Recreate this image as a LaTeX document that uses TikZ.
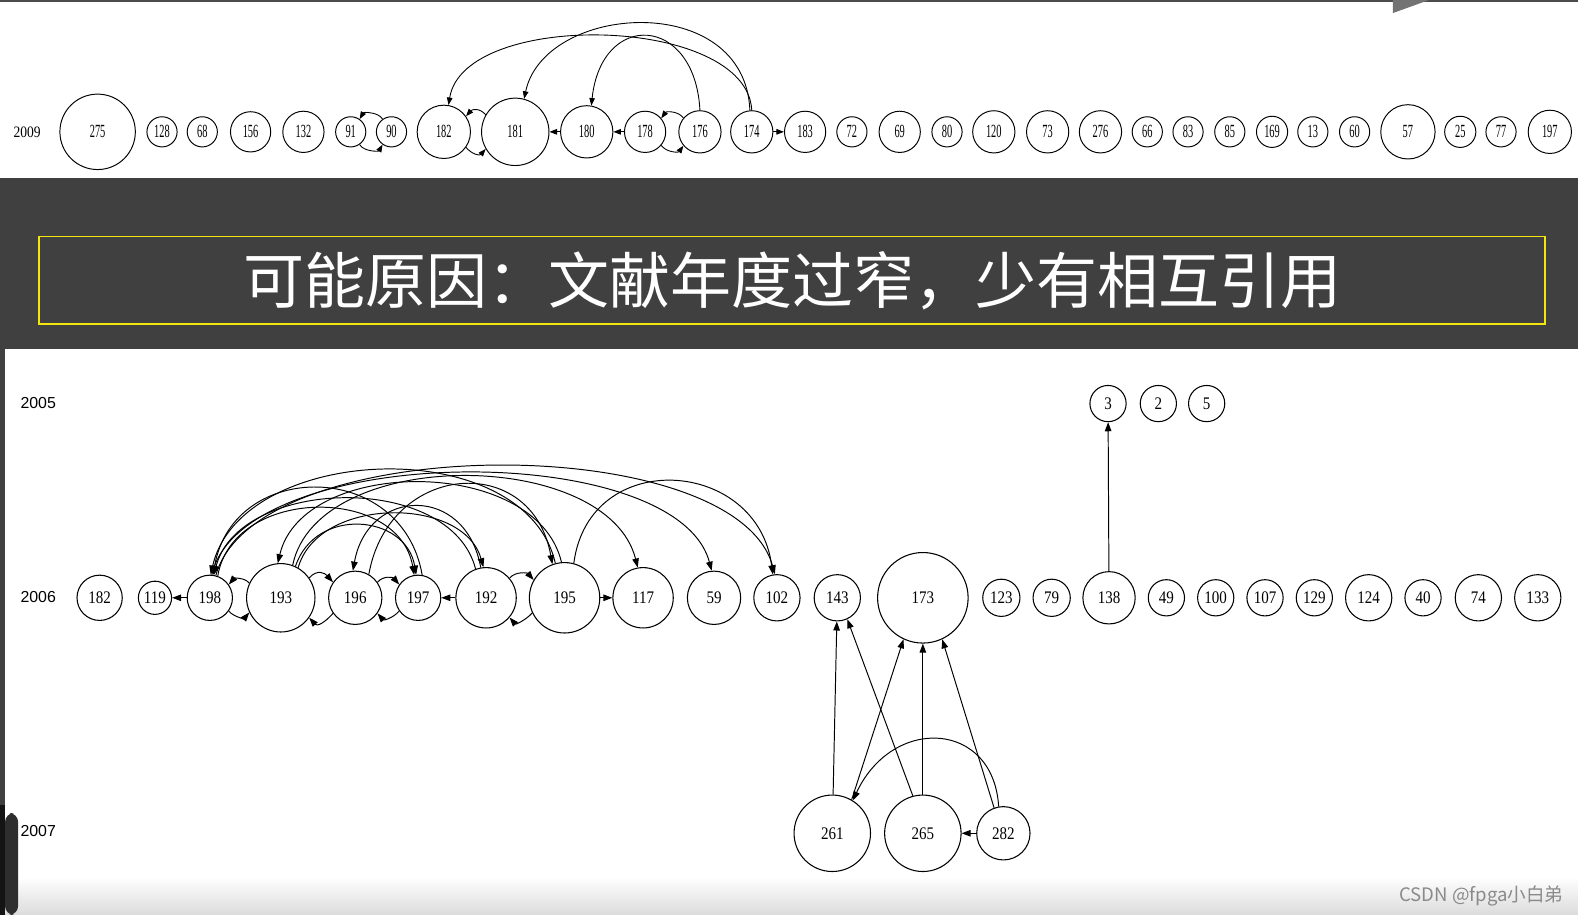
\documentclass[tikz,border=0pt]{standalone}
\usepackage{fontspec}
\setmainfont{Liberation Serif}
\newfontfamily\narrowserif[FakeStretch=0.56]{Liberation Serif}
\newfontfamily\graphserif[FakeStretch=0.85]{Liberation Serif}
\newfontfamily\yearfont{Liberation Sans}
\newfontfamily\cjk{Noto Sans CJK SC}
\usetikzlibrary{arrows.meta,backgrounds}
\pgfdeclarelayer{bglayer}
\pgfdeclarelayer{edgelayer}
\pgfdeclarelayer{nodelayer}
\pgfsetlayers{bglayer,edgelayer,nodelayer,main}
\definecolor{band}{HTML}{404040}
\definecolor{titleyellow}{HTML}{F5E50F}
\definecolor{wmgray}{HTML}{8A8A8A}

\tikzset{
    old/.style={circle, draw, line width=0.55pt, inner sep=0pt, minimum size=#1*0.04cm,
        font=\narrowserif\fontsize{10.5}{11}\selectfont},
    paper/.style={circle, draw, line width=0.6pt, inner sep=0pt, minimum size=#1*0.04cm,
        font=\graphserif\fontsize{10}{11}\selectfont},
    cite/.style={line width=0.55pt, -{Triangle[length=1.8mm,width=1.3mm]}},
    oldcite/.style={line width=0.5pt, -{Triangle[length=1.5mm,width=1.1mm]}},
    year/.style={font=\yearfont\fontsize{9}{10}\selectfont},
    titlebox/.style={draw=titleyellow, line width=1.1pt, fill=band, text=white,
        minimum width=29.92cm, minimum height=1.74cm, inner sep=0pt,
        font=\cjk\fontsize{34.5}{40}\selectfont},
}

\begin{document}
\begin{tikzpicture}[x=0.02cm, y=-0.02cm]
    \useasboundingbox (0,0) rectangle (1568,909);
    \begin{pgfonlayer}{bglayer}
        \fill[white] (0,0) rectangle (1568,909);
        \fill[black!70] (0,0) rectangle (1568,1.5);
        \fill[black!55] (1384,0) -- (1384,13) -- (1420,0) -- cycle;
        \fill[band] (0,177) rectangle (1568,347);
        \fill[band] (0,347) rectangle (5,909);
        \shade[top color=white, bottom color=black!14] (5,871) rectangle (1568,909);
        \fill[black!92] (0,800) rectangle (5,909);
        \fill[black!82, rounded corners=5] (5,808) rectangle (18,909);
    \end{pgfonlayer}
    \begin{pgfonlayer}{nodelayer}
            % 2009
            \node [font=\graphserif\fontsize{9}{10}\selectfont] (y2009) at (27,131) {2009};
            \node [old=37.5] (a275) at (97,131) {275};
            \node [old=15] (a128) at (161,131) {128};
            \node [old=15] (a68) at (201,131) {68};
            \node [old=20] (a156) at (249,131) {156};
            \node [old=20.5] (a132) at (301.5,131) {132};
            \node [old=15] (a91) at (348.5,131) {91};
            \node [old=15] (a90) at (389,131) {90};
            \node [old=26.5] (a182) at (441,131) {182};
            \node [old=33.5] (a181) at (512,131) {181};
            \node [old=26] (a180) at (583,131) {180};
            \node [old=20.5] (a178) at (641,131) {178};
            \node [old=21] (a176) at (695.5,131) {176};
            \node [old=21] (a174) at (747,131) {174};
            \node [old=20.5] (a183) at (800,131) {183};
            \node [old=15] (a72) at (846.5,131) {72};
            \node [old=20.5] (a69) at (894,131) {69};
            \node [old=15] (a80) at (941,131) {80};
            \node [old=21] (a120) at (987.5,131) {120};
            \node [old=21] (a73) at (1041,131) {73};
            \node [old=21] (a276) at (1093.5,131) {276};
            \node [old=15] (a66) at (1140,131) {66};
            \node [old=15] (a83) at (1180.5,131) {83};
            \node [old=15] (a85) at (1222,131) {85};
            \node [old=15.5] (a169) at (1264,131) {169};
            \node [old=15] (a13) at (1304.5,131) {13};
            \node [old=15] (a60) at (1346,131) {60};
            \node [old=27] (a57) at (1399,131) {57};
            \node [old=15.5] (a25) at (1451,131) {25};
            \node [old=15] (a77) at (1491.5,131) {77};
            \node [old=21.5] (a197) at (1540,131) {197};
            % title
            \node [titlebox] (reason) at (787,278.5) {可能原因：文献年度过窄，少有相互引用};
            % 2005
            \node [year] (y2005) at (38,400) {2005};
            \node [paper=18] (c3) at (1101,401) {3};
            \node [paper=18] (c2) at (1151,401) {2};
            \node [paper=18] (c5) at (1199,401) {5};
            % 2006
            \node [year] (y2006) at (38,593) {2006};
            \node [paper=22.5] (b182) at (99,594) {182};
            \node [paper=16.5] (b119) at (154,594) {119};
            \node [paper=22.5] (b198) at (208.5,594) {198};
            \node [paper=34] (b193) at (279,594) {193};
            \node [paper=26.5] (b196) at (353,594) {196};
            \node [paper=22.5] (b197) at (415.5,594) {197};
            \node [paper=30] (b192) at (483,594) {192};
            \node [paper=35] (b195) at (561,594) {195};
            \node [paper=30] (b117) at (639,594) {117};
            \node [paper=26.5] (b59) at (709.5,594) {59};
            \node [paper=23] (b102) at (772,594) {102};
            \node [paper=23] (b143) at (832,594) {143};
            \node [paper=45] (b173) at (917,594) {173};
            \node [paper=18.5] (b123) at (995,594) {123};
            \node [paper=18.5] (b79) at (1045,594) {79};
            \node [paper=26] (b138) at (1102,594) {138};
            \node [paper=18] (b49) at (1159,594) {49};
            \node [paper=18] (b100) at (1208,594) {100};
            \node [paper=18] (b107) at (1257,594) {107};
            \node [paper=18] (b129) at (1306,594) {129};
            \node [paper=23] (b124) at (1360,594) {124};
            \node [paper=18] (b40) at (1414,594) {40};
            \node [paper=23] (b74) at (1469,594) {74};
            \node [paper=23] (b133) at (1528,594) {133};
            % 2007
            \node [year] (y2007) at (38,826) {2007};
            \node [paper=38] (d261) at (827,828) {261};
            \node [paper=38] (d265) at (917,828) {265};
            \node [paper=26.5] (d282) at (997,828) {282};
            \node [font=\cjk\fontsize{10.5}{12}\selectfont, text=wmgray] (credit) at (1472,890) {CSDN @fpga小白弟};
    \end{pgfonlayer}
    \begin{pgfonlayer}{edgelayer}
            % 2009 citations
            \draw [oldcite] (a90.125) .. controls +(-4,-7) and +(4,-7) .. (a91.55);
            \draw [oldcite] (a91.-55) .. controls +(4,7) and +(-4,7) .. (a90.-125);
            \draw [oldcite] (a181.150) .. controls +(-6,-7) and +(6,-7) .. (a182.35);
            \draw [oldcite] (a182.-35) .. controls +(6,7) and +(-6,7) .. (a181.-150);
            \draw [oldcite] (a180) -- (a181);
            \draw [oldcite] (a178) -- (a180);
            \draw [oldcite] (a176.140) .. controls +(-5,-7) and +(5,-7) .. (a178.40);
            \draw [oldcite] (a178.-40) .. controls +(5,7) and +(-5,7) .. (a176.-140);
            \draw [oldcite] (a174) -- (a183);
            \draw [oldcite] (a174.north) .. controls +(-5,-95) and +(15,-95) .. (a182.80);
            \draw [oldcite] (a174.95) .. controls +(-5,-120) and +(20,-95) .. (a181.75);
            \draw [oldcite] (a176.north) .. controls +(-5,-95) and +(10,-95) .. (a180.80);
            % 2006 neighbours
            \draw [cite] (b198) -- (b119);
            \draw [cite] (b193.155) .. controls +(-5,-6) and +(5,-6) .. (b198.35);
            \draw [cite] (b198.-35) .. controls +(5,6) and +(-5,6) .. (b193.-155);
            \draw [cite] (b193.35) .. controls +(8,-9) and +(-8,-9) .. (b196.145);
            \draw [cite] (b196.-145) .. controls +(-8,9) and +(8,9) .. (b193.-35);
            \draw [cite] (b196.35) .. controls +(6,-7) and +(-6,-7) .. (b197.145);
            \draw [cite] (b197.-145) .. controls +(-6,7) and +(6,7) .. (b196.-35);
            \draw [cite] (b192) -- (b197);
            \draw [cite] (b192.40) .. controls +(6,-7) and +(-6,-7) .. (b195.150);
            \draw [cite] (b195.-155) .. controls +(-6,7) and +(6,7) .. (b192.-40);
            \draw [cite] (b195) -- (b117);
            % 2006 long arcs
            \draw [cite] (b198.75) .. controls +(40,-144) and +(-40,-144) .. (b102.95);
            \draw [cite] (b198.85) .. controls +(30,-132) and +(-35,-132) .. (b59.95);
            \draw [cite] (b193.70) .. controls +(25,-119) and +(-30,-119) .. (b117.100);
            \draw [cite] (b195.105) .. controls +(-30,-131) and +(30,-131) .. (b198.88);
            \draw [cite] (b195.75) .. controls +(15,-116) and +(-15,-116) .. (b102.100);
            \draw [cite] (b196.60) .. controls +(20,-112) and +(-20,-112) .. (b195.110);
            \draw [cite] (b192.110) .. controls +(-25,-97) and +(25,-97) .. (b198.80);
            \draw [cite] (b193.60) .. controls +(20,-71) and +(-20,-71) .. (b192.95);
            \draw [cite] (b198.70) .. controls +(15,-89) and +(-15,-89) .. (b197.100);
            \draw [cite] (b193.65) .. controls +(20,-60) and +(-10,-60) .. (b197.95);
            \draw [cite] (b192.100) .. controls +(-15,-83) and +(15,-83) .. (b196.95);
            \draw [cite] (b195.95) .. controls +(-25,-106) and +(25,-106) .. (b193.95);
            \draw [cite] (b197.80) .. controls +(-20,-115) and +(20,-115) .. (b198.82);
            % 2005 / 2007
            \draw [cite] (b138) -- (c3);
            \draw [cite] (d261) -- (b143);
            \draw [cite] (d265.105) -- (b143.-65);
            \draw [cite] (d265) -- (b173);
            \draw [cite] (d261.60) -- (b173.-115);
            \draw [cite] (d282.100) .. controls +(-5,-85) and +(40,-85) .. (d261.58);
            \draw [cite] (d282.110) -- (b173.-65);
            \draw [cite] (d282) -- (d265);
    \end{pgfonlayer}
\end{tikzpicture}
\end{document}
